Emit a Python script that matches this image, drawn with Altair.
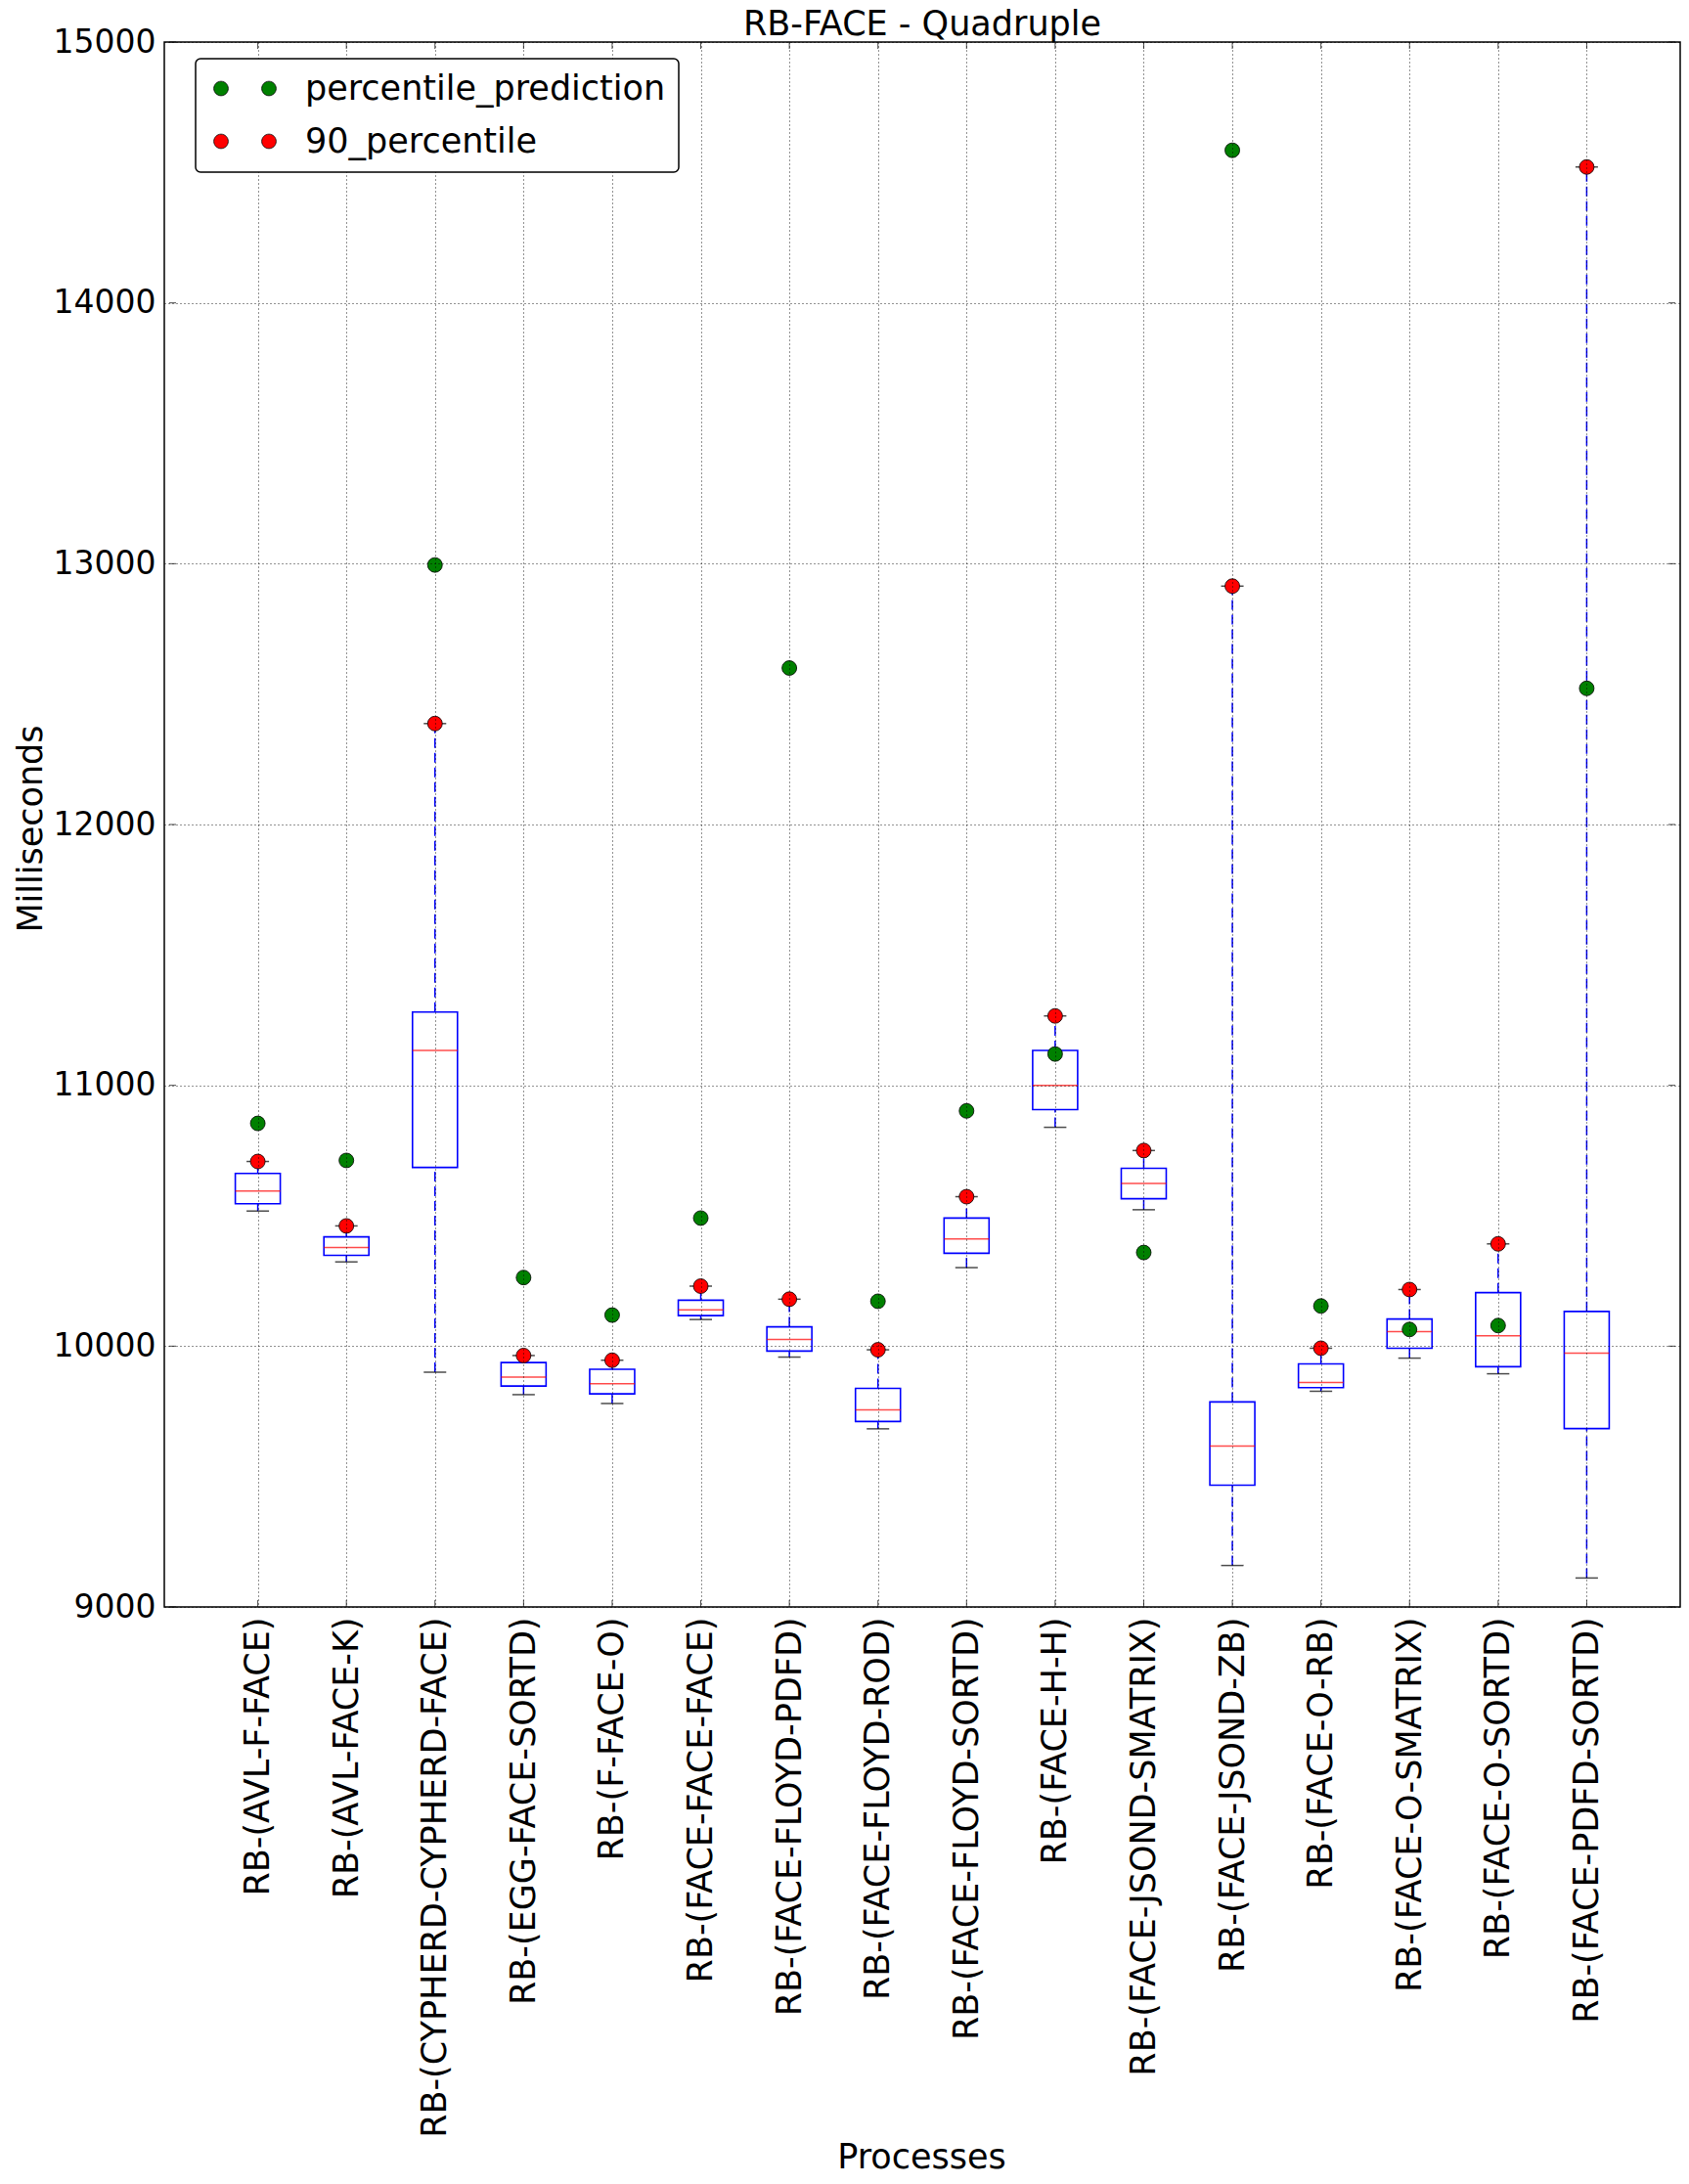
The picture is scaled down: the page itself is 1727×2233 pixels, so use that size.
import json
import altair as alt
import pandas as pd

chart_title = "RB-FACE - Quadruple"
categories = [
    "RB-(AVL-F-FACE)", "RB-(AVL-FACE-K)", "RB-(CYPHERD-CYPHERD-FACE)",
    "RB-(EGG-FACE-SORTD)", "RB-(F-FACE-O)", "RB-(FACE-FACE-FACE)",
    "RB-(FACE-FLOYD-PDFD)", "RB-(FACE-FLOYD-ROD)", "RB-(FACE-FLOYD-SORTD)",
    "RB-(FACE-H-H)", "RB-(FACE-JSOND-SMATRIX)", "RB-(FACE-JSOND-ZB)",
    "RB-(FACE-O-RB)", "RB-(FACE-O-SMATRIX)", "RB-(FACE-O-SORTD)",
    "RB-(FACE-PDFD-SORTD)",
]
whisker_low = [10518, 10323, 9900, 9814, 9780, 10102, 9958, 9683, 10301, 10839, 10523, 9159, 9827, 9954, 9894, 9111]
q1 = [10546, 10348, 10685, 9847, 9817, 10117, 9981, 9711, 10356, 10907, 10565, 9467, 9841, 9992, 9921, 9684]
median = [10595, 10378, 11134, 9881, 9856, 10139, 10026, 9756, 10411, 11000, 10624, 9617, 9861, 10056, 10040, 9973]
q3 = [10662, 10419, 11281, 9937, 9911, 10176, 10074, 9838, 10491, 11134, 10682, 9786, 9932, 10104, 10205, 10133]
percentile_90 = [10708, 10461, 12387, 9964, 9946, 10230, 10180, 9986, 10573, 11266, 10750, 12914, 9992, 10217, 10392, 14521]
percentile_prediction = [10854, 10712, 12995, 10263, 10119, 10491, 12600, 10172, 10902, 11120, 10359, 14585, 10154, 10064, 10079, 12522]

series_names = ["percentile_prediction", "90_percentile"]
series_colors = ["#008000", "#ff0000"]
y_ticks = [9000, 10000, 11000, 12000, 13000, 14000, 15000]
x_domain = [0, 17]

positions = list(range(1, len(categories) + 1))

box_df = pd.DataFrame({
    "pos": positions, "name": categories, "wlo": whisker_low, "q1": q1,
    "med": median, "q3": q3, "p90": percentile_90,
})
pts_df = pd.DataFrame({
    "pos": positions * 2,
    "value": percentile_prediction + percentile_90,
    "series": [series_names[0]] * len(positions) + [series_names[1]] * len(positions),
})
xtick_df = pd.DataFrame({
    "pos": positions * 2,
    "edge": [y_ticks[0]] * len(positions) + [y_ticks[-1]] * len(positions),
    "side": ["bottom"] * len(positions) + ["top"] * len(positions),
})
ytick_df = pd.DataFrame({
    "edge": [x_domain[0]] * len(y_ticks) + [x_domain[1]] * len(y_ticks),
    "val": y_ticks * 2,
    "side": ["left"] * len(y_ticks) + ["right"] * len(y_ticks),
})
title_df = pd.DataFrame({"text": [chart_title]})

FONT = "DejaVu Sans"

x_axis = alt.Axis(
    values=positions,
    labelExpr=json.dumps(categories) + "[datum.value - 1]",
    labelAngle=270, labelAlign="right", labelBaseline="middle",
    labelPadding=10, labelFontSize=35, labelLimit=0,
    title="Processes", titleX=774, titleY=573, titleAngle=0,
    titleBaseline="alphabetic", titleAlign="center",
    titleFontSize=35, zindex=1,
)
y_axis = alt.Axis(
    values=y_ticks, format="d", labelFontSize=33, labelPadding=9,
    labelAlign="right", labelBaseline="middle",
    title="Milliseconds", titleX=-126, titleY=804, titleAngle=270,
    titleBaseline="alphabetic", titleAlign="center", titleFontSize=35,
    zindex=1,
)
x_scale = alt.Scale(domain=x_domain, nice=False, zero=False)
y_scale = alt.Scale(domain=[y_ticks[0], y_ticks[-1]], nice=False, zero=False)


def X(field="pos:Q"):
    return alt.X(field, scale=x_scale, axis=x_axis)


def Y(field):
    return alt.Y(field, scale=y_scale, axis=y_axis)


base = alt.Chart(box_df)

whisk_lo = base.mark_rule(color="#0000ff", strokeWidth=1.5, strokeDash=[10, 5]).encode(
    x=X(), y=Y("wlo:Q"), y2="q1:Q")
whisk_hi = base.mark_rule(color="#0000ff", strokeWidth=1.5, strokeDash=[10, 5]).encode(
    x=X(), y=Y("q3:Q"), y2="p90:Q")
cap_lo = base.mark_tick(orient="horizontal", size=23, thickness=1.5, color="black").encode(
    x=X(), y=Y("wlo:Q"))
cap_hi = base.mark_tick(orient="horizontal", size=23, thickness=1.5, color="black").encode(
    x=X(), y=Y("p90:Q"))
box = base.mark_bar(orient="vertical", size=46, fillOpacity=0, stroke="#0000ff", strokeWidth=1.6).encode(
    x=X(), y=Y("q1:Q"), y2="q3:Q")
med = base.mark_tick(orient="horizontal", size=46, thickness=1.5, color="#ff0000").encode(
    x=X(), y=Y("med:Q"))

# inward ticks on the frame (matplotlib classic style)
xt = alt.Chart(xtick_df)
ticks_bottom = xt.transform_filter(alt.datum.side == "bottom").mark_tick(
    orient="vertical", size=7, thickness=1, color="black", yOffset=-3.5).encode(
    x=X(), y=Y("edge:Q"))
ticks_top = xt.transform_filter(alt.datum.side == "top").mark_tick(
    orient="vertical", size=7, thickness=1, color="black", yOffset=3.5).encode(
    x=X(), y=Y("edge:Q"))
yt = alt.Chart(ytick_df)
ticks_left = yt.transform_filter(alt.datum.side == "left").mark_tick(
    orient="horizontal", size=7, thickness=1, color="black", xOffset=3.5).encode(
    x=X("edge:Q"), y=Y("val:Q"))
ticks_right = yt.transform_filter(alt.datum.side == "right").mark_tick(
    orient="horizontal", size=7, thickness=1, color="black", xOffset=-3.5).encode(
    x=X("edge:Q"), y=Y("val:Q"))

two_dots = ("M-4.333,0A1,1,0,1,1,-2.333,0A1,1,0,1,1,-4.333,0Z"
            "M2.333,0A1,1,0,1,1,4.333,0A1,1,0,1,1,2.333,0Z")

points = alt.Chart(pts_df).mark_point(
    filled=True, shape="circle", size=225, stroke="black", strokeWidth=0.8, opacity=1
).encode(
    x=X(), y=Y("value:Q"),
    color=alt.Color(
        "series:N",
        scale=alt.Scale(domain=series_names, range=series_colors),
        sort=series_names,
        legend=alt.Legend(
            title=None, orient="none", legendX=32, legendY=17,
            direction="vertical", symbolType=two_dots, symbolSize=216,
            symbolStrokeColor="black", symbolStrokeWidth=0.8, symbolOpacity=1,
            symbolOffset=20, labelOffset=44, labelFontSize=35, labelFont=FONT,
            labelColor="black", labelLimit=0, padding=13, rowPadding=18,
            strokeColor="black", fillColor="white", cornerRadius=5, zindex=2,
        ),
    ),
)

title_text = alt.Chart(title_df).mark_text(
    font=FONT, fontSize=35, color="black", align="center", baseline="alphabetic",
).encode(
    x=alt.value(775), y=alt.value(-7), text="text:N",
)

chart = alt.layer(
    whisk_lo, whisk_hi, cap_lo, cap_hi, box, med,
    ticks_bottom, ticks_top, ticks_left, ticks_right,
    points, title_text,
).properties(
    width=1550, height=1600,
    autosize=alt.AutoSizeParams(type="none"),
    padding={"left": 160, "top": 35, "right": 1, "bottom": 590},
).configure_view(
    stroke="black", strokeWidth=1.5,
).configure_axis(
    labelFont=FONT, titleFont=FONT, labelColor="black", titleColor="black",
    titleFontWeight="normal", ticks=False, domain=False,
    gridColor="black", gridDash=[1, 3], gridOpacity=0.85, gridWidth=1,
    labelFlush=False, labelOverlap=False, labelBound=False,
).configure_legend(
    strokeWidth=1.5,
)

chart.save("out.html", embed_options={"renderer": "svg", "actions": False})
